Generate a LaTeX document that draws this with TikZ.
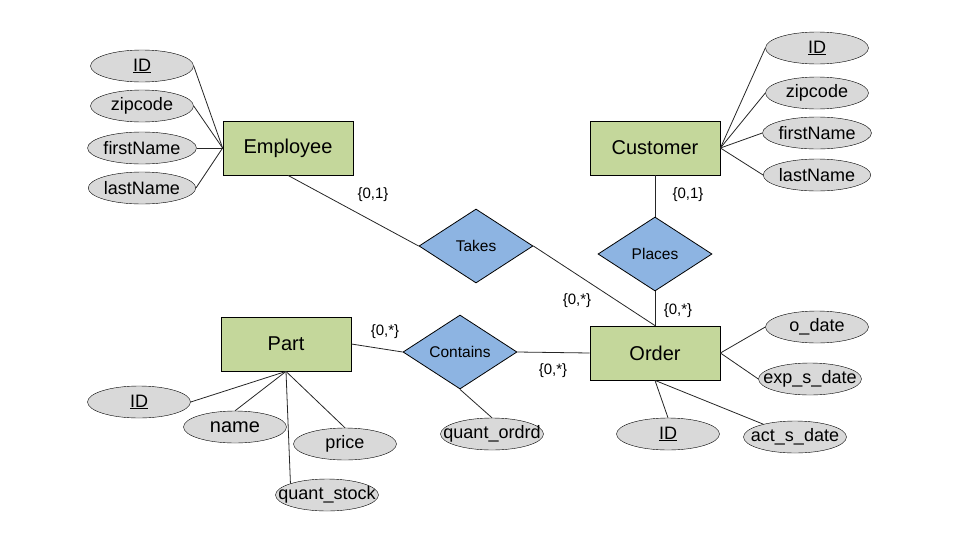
\documentclass[tikz,border=0pt]{standalone}
\usepackage{fontspec}
\setmainfont{Liberation Sans}
\usetikzlibrary{positioning, shapes.geometric}
\definecolor{vertent}{HTML}{C4D79B}
\definecolor{bleurel}{HTML}{8DB4E2}
\definecolor{grisatt}{HTML}{D9D9D9}
\newcommand{\deborde}[1]{\makebox[0pt][c]{#1}}
\tikzset{
    %Define style for entity boxes
    entite/.style={
           rectangle,
           draw=black, thick,
           fill=vertent,
           minimum width=130pt,
           minimum height=54pt,
           font=\fontsize{20}{24}\selectfont},
    %Define style for relations
    relation/.style={
           diamond,
           draw=black, thick,
           fill=bleurel,
           inner sep=0pt,
           minimum width=114pt,
           minimum height=74pt,
           font=\fontsize{15.5}{18}\selectfont},
    %Define style for attributes
    attribut/.style={
           ellipse,
           draw=black, thin,
           fill=grisatt,
           inner sep=0pt,
           minimum width=103pt,
           minimum height=32pt,
           font=\fontsize{18}{21}\selectfont},
    % Define line style
    lien/.style={
           -,
           line width=0.8pt,
           draw=black!85},
    card/.style={
           font=\fontsize{15}{17}\selectfont}
}

\begin{document}
\begin{tikzpicture}[x=1pt, y=-1pt]
	\useasboundingbox (0,0) rectangle (955,554);
	%
	% noeuds
	%
	\node[entite] (emp) at (288,148) {Employee};
	\node[entite] (cust) at (655,148) {Customer};
	\node[entite] (part) at (286,344) {Part};
	\node[entite] (ord) at (655,353) {Order};
	\node[relation] (takes) at (476,246) {Takes};
	\node[relation] (places) at (655,254) {Places};
	\node[relation] (cont) at (460,352) {Contains};
	%
	% attributs
	%
	\node[attribut] (eid) at (142,66) {\underline{ID}};
	\node[attribut] (ezip) at (142,106) {zipcode};
	\node[attribut] (efirst) at (142,148) {firstName};
	\node[attribut] (elast) at (142,188) {lastName};
	\node[attribut] (cid) at (817,48) {\underline{ID}};
	\node[attribut] (czip) at (817,93) {zipcode};
	\node[attribut] (cfirst) at (817,133) {firstName};
	\node[attribut] (clast) at (817,175) {lastName};
	\node[attribut] (odate) at (817,327) {o\_date};
	\node[attribut] (oexp) at (810,379) {\deborde{exp\_s\_date}};
	\node[attribut] (oact) at (795,437) {\deborde{act\_s\_date}};
	\node[attribut] (oid) at (668,434) {\underline{ID}};
	\node[attribut] (pid) at (139,402) {\underline{ID}};
	\node[attribut, font=\fontsize{20}{24}\selectfont] (pname) at (235,427) {name};
	\node[attribut] (pprice) at (345,444) {price};
	\node[attribut] (pqs) at (327,495) {\deborde{quant\_stock}};
	\node[attribut] (qord) at (492,434) {\deborde{quant\_ordrd}};
	%
	% Liens
	%
	\draw[lien] (emp.south) -- (takes.west);
	\draw[lien] (takes.east) -- (ord.north);
	\draw[lien] (cust.south) -- (places.north);
	\draw[lien] (places.south) -- (ord.north);
	\draw[lien] (part.east) -- (cont.west);
	\draw[lien] (cont.east) -- (ord.west);
	\draw[lien] (cont.south) -- (qord.north);
	\foreach \a in {eid, ezip, efirst, elast}
		\draw[lien] (\a.east) -- (emp.west);
	\foreach \a in {cid, czip, cfirst, clast}
		\draw[lien] (\a.west) -- (cust.east);
	\draw[lien] (odate.west) -- (ord.east);
	\draw[lien] (oexp.west) -- (ord.east);
	\draw[lien] (ord.south) -- (oact);
	\draw[lien] (ord.south) -- (oid.north);
	\draw[lien] (pid.east) -- (part.south);
	\draw[lien] (pname.north) -- (part.south);
	\draw[lien] (pprice.north) -- (part.south);
	\draw[lien] (pqs.north west) -- (part.south);
	%
	% cardinalites
	%
	\node[card] (c1) at (373,195) {\{0,1\}};
	\node[card] (c2) at (688,195) {\{0,1\}};
	\node[card] (c3) at (577,301) {\{0,*\}};
	\node[card] (c4) at (678,311) {\{0,*\}};
	\node[card] (c5) at (385,332) {\{0,*\}};
	\node[card] (c6) at (553,371) {\{0,*\}};
\end{tikzpicture}
\end{document}
